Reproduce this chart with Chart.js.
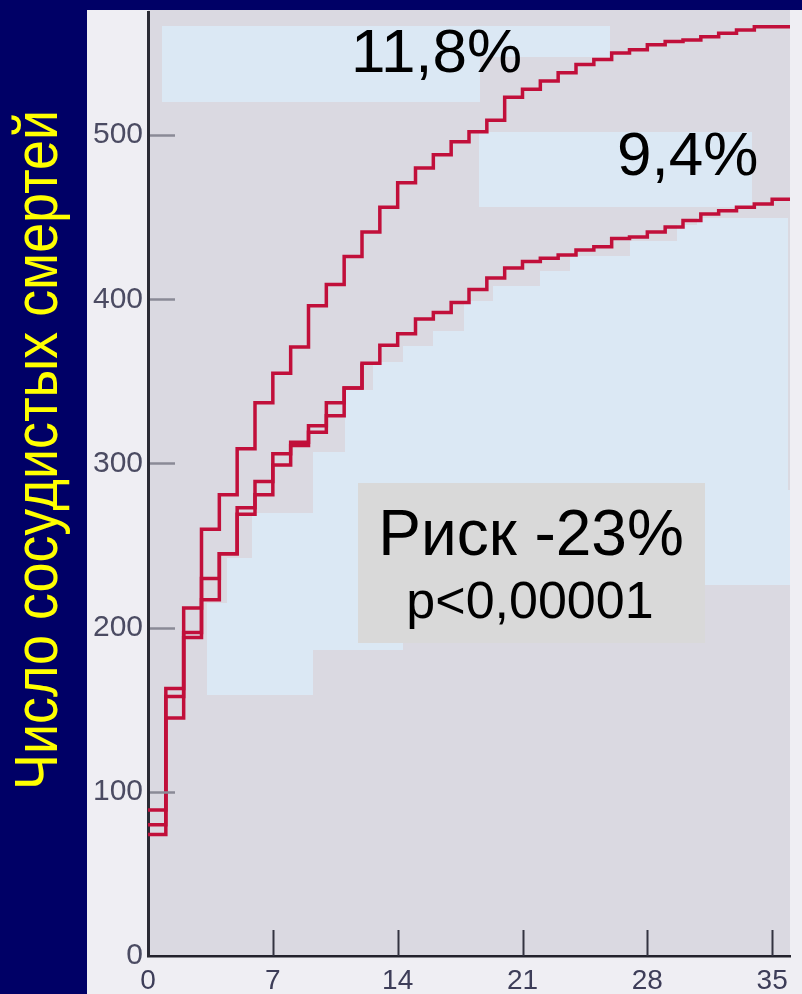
<!DOCTYPE html>
<html><head><meta charset="utf-8">
<script src="https://cdn.jsdelivr.net/npm/chart.js@4.4.1/dist/chart.umd.min.js"></script>
<style>html,body{margin:0;padding:0;background:#000066;overflow:hidden}canvas{display:block}</style>
</head><body>
<canvas id="c" width="802" height="994"></canvas>
<script>
// ---- data ----
const days = [0,1,2,3,4,5,6,7,8,9,10,11,12,13,14,15,16,17,18,19,20,21,22,23,24,25,26,27,28,29,30,31,32,33,34,35,36];
// upper curve (11,8%)
const placeboDeaths = [80,163,197,260,281,309,337,355,371,396,409,426,441,456,471,480,488,496,502,509,523,528,533,538,543,546,550,552,555,557,558,560,562,564,566,566,566];
// lower curve (9,4%)
const aspirinDeaths = [74,145,212,230,245,273,289,306,313,323,337,346,361,372,379,388,392,398,406,413,419,423,425,427,430,432,437,438,441,444,448,452,454,456,458,461,461];
// second trace of the lower curve, visible as a double line in the first days
const aspirinTwin = [89,158,194,217,245,269,281,299,311,319,329,346,361];
const yTickValues = [0,100,200,300,400,500];
const xTickValues = [0,7,14,21,28,35];
const yTitle = 'Число сосудистых смертей';
const upperLabel = '11,8%';
const lowerLabel = '9,4%';
const riskLabel = 'Риск -23%';
const pLabel = 'p<0,00001';

const FONT = '"Liberation Sans", Arial, Helvetica, sans-serif';
const RED = '#c10f3a';

const pts = (vals) => vals.map((v, i) => ({x: days[i], y: v}));

// decorative light-blue patches of the scanned slide (pixel layout)
const patches = [
  [162,26,448,31],[162,57,318,45],[479,132,273,75],
  [697,218,91,272],[677,225,20,230],[630,241,47,214],[570,256,60,199],[540,271,30,184],
  [493,286,47,169],[464,301,29,154],[433,331,31,124],[403,346,30,109],[373,362,30,93],
  [345,390,28,65],[313,452,392,31],[313,483,90,167],[252,513,61,45],[227,558,86,45],[207,603,106,92],
  [705,490,85,95]
];

const deco = {
  id: 'deco',
  beforeDraw(chart) {
    const {ctx, chartArea: a} = chart;
    ctx.save();
    ctx.fillStyle = '#000066';
    ctx.fillRect(0, 0, chart.width, chart.height);
    ctx.fillStyle = '#efeef3';
    ctx.fillRect(87, 10, chart.width - 87, chart.height - 10);
    ctx.fillStyle = '#dad9e1';
    ctx.fillRect(a.left, a.top - 2, a.right - a.left, a.bottom - a.top + 2);
    ctx.fillStyle = '#dbe8f4';
    patches.forEach(p => ctx.fillRect(p[0], p[1], p[2], p[3]));
    ctx.restore();
  },
  afterDraw(chart) {
    const {ctx, chartArea: a} = chart;
    const xs = chart.scales.x, ys = chart.scales.y;
    ctx.save();
    // inward tick marks
    ctx.strokeStyle = '#8a8a96'; ctx.lineWidth = 2.5;
    yTickValues.forEach(v => {
      if (v === 0) return;
      const py = Math.round(ys.getPixelForValue(v)) + 0.5;
      ctx.beginPath(); ctx.moveTo(a.left + 2, py); ctx.lineTo(a.left + 27, py); ctx.stroke();
    });
    ctx.strokeStyle = '#333340'; ctx.lineWidth = 2;
    xTickValues.forEach(v => {
      if (v === 0) return;
      const px = Math.round(xs.getPixelForValue(v)) + 0.5;
      ctx.beginPath(); ctx.moveTo(px, a.bottom); ctx.lineTo(px, a.bottom - 26); ctx.stroke();
    });
    // curve labels
    ctx.fillStyle = '#000';
    ctx.textBaseline = 'alphabetic';
    ctx.textAlign = 'left';
    ctx.font = '62px ' + FONT;
    ctx.fillText(upperLabel, 351, 72);
    ctx.fillText(lowerLabel, 617, 175);
    // risk box
    ctx.fillStyle = '#d9d9d9';
    ctx.fillRect(358, 483, 347, 160);
    ctx.fillStyle = '#000';
    ctx.textAlign = 'center';
    ctx.font = '64px ' + FONT;
    ctx.fillText(riskLabel, 531, 555);
    ctx.font = '52px ' + FONT;
    ctx.fillText(pLabel, 530, 618);
    // rotated y title
    ctx.translate(57, 450);
    ctx.rotate(-Math.PI / 2);
    ctx.font = '62px ' + FONT;
    const w = ctx.measureText(yTitle).width;
    ctx.scale(680 / w, 1);
    ctx.fillStyle = '#ffff00';
    ctx.fillText(yTitle, 0, 0);
    ctx.restore();
  }
};

const lineDs = (data) => ({
  data: pts(data), borderColor: RED, borderWidth: 3.5, pointRadius: 0,
  stepped: 'before', fill: false, tension: 0
});

new Chart(document.getElementById('c'), {
  type: 'line',
  data: { datasets: [lineDs(placeboDeaths), lineDs(aspirinDeaths), lineDs(aspirinTwin)] },
  options: {
    responsive: false, animation: false, devicePixelRatio: 1,
    layout: { padding: { left: 87, top: 12, right: 12, bottom: 0 } },
    plugins: { legend: { display: false }, tooltip: { enabled: false } },
    scales: {
      x: {
        type: 'linear', min: 0, max: 36,
        afterBuildTicks: s => { s.ticks = xTickValues.map(v => ({value: v})); },
        afterFit: s => { s.height = 38; s.paddingLeft = 0; s.paddingRight = 0; },
        grid: { display: false, drawTicks: false },
        border: { display: true, color: '#22222c', width: 2.5 },
        ticks: { color: '#3d3d58', font: { size: 28, family: FONT }, padding: 8, maxRotation: 0, autoSkip: false }
      },
      y: {
        type: 'linear', min: 0, max: 575,
        afterBuildTicks: s => { s.ticks = yTickValues.map(v => ({value: v})); },
        afterFit: s => { s.width = 61; s.paddingTop = 0; s.paddingBottom = 0; },
        grid: { display: false, drawTicks: false },
        border: { display: true, color: '#2a2a34', width: 3 },
        ticks: { color: '#4b4b62', font: { size: 30, family: FONT }, padding: 5, autoSkip: false }
      }
    }
  },
  plugins: [deco]
});
</script>
</body></html>
